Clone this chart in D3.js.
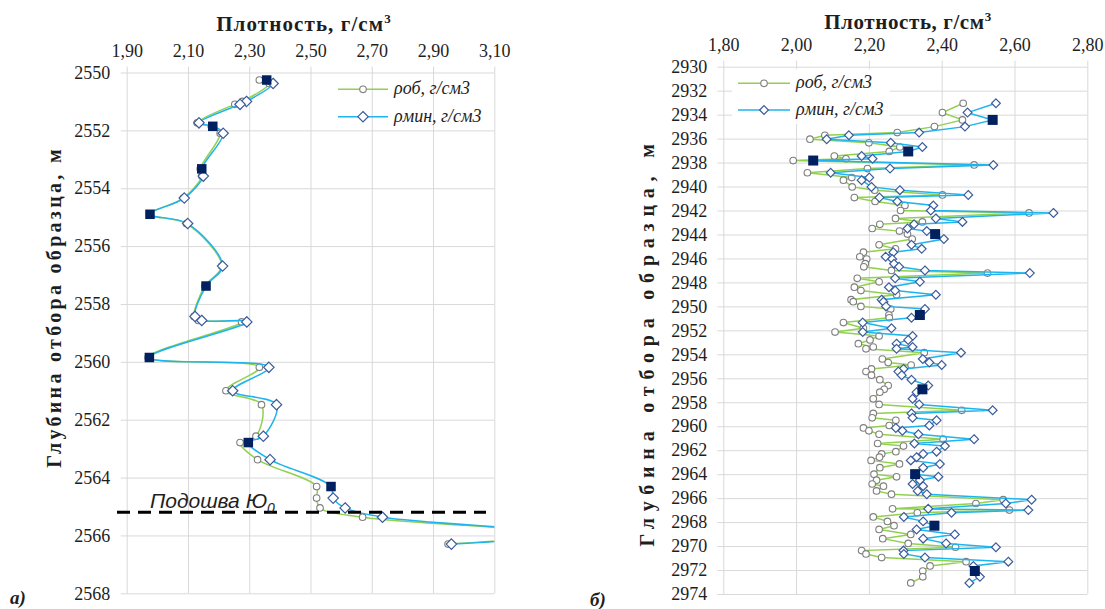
<!DOCTYPE html>
<html><head><meta charset="utf-8">
<script src="https://cdn.jsdelivr.net/npm/d3@7/dist/d3.min.js"></script>
<style>
body{margin:0;background:#fff;}
svg{display:block;}
</style></head>
<body><svg id="c" width="1105" height="609"></svg>
<script>
// ---------- DATA ----------
// Panel а)
const depthA = [2550.26,2550.38,2551.00,2551.10,2551.74,2551.86,2552.10,2553.33,2553.58,2554.34,2554.90,2555.22,2556.69,2557.38,2558.43,2558.57,2558.62,2559.85,2560.19,2561.00,2561.48,2562.57,2562.79,2563.38,2564.31,2564.71,2565.05,2565.37,2565.95,2566.30];
const robA   = [2.333,2.365,2.278,2.253,2.130,2.176,2.205,2.140,2.145,2.085,1.975,2.095,2.210,2.155,2.120,2.134,2.275,1.970,2.333,2.224,2.340,2.322,2.270,2.327,2.520,2.520,2.531,2.670,3.300,2.949];
const rminA  = [2.357,2.378,2.291,2.270,2.136,2.181,2.215,2.145,2.150,2.088,1.976,2.099,2.213,2.159,2.123,2.145,2.292,1.974,2.364,2.246,2.389,2.346,2.297,2.368,2.567,2.574,2.613,2.735,3.330,2.960];
const markedA = [0,5,7,10,13,17,22,24];
const xTicksA = [1.9,2.1,2.3,2.5,2.7,2.9,3.1];
const yTicksA = [2550,2552,2554,2556,2558,2560,2562,2564,2566,2568];
const baseDepthA = 2565.2;

// Panel б)
const depthB = [2933.05,2933.83,2934.44,2935.00,2935.50,2935.72,2936.05,2936.35,2936.70,2937.07,2937.45,2937.68,2937.83,2938.20,2938.50,2938.85,2939.25,2939.47,2940.03,2940.30,2940.70,2940.92,2941.25,2941.58,2942.00,2942.20,2942.66,2942.95,2943.15,2943.50,2943.72,2943.97,2944.38,2944.86,2945.20,2945.48,2945.86,2946.05,2946.44,2946.70,2947.00,2947.22,2947.66,2947.95,2948.40,2948.68,2949.03,2949.44,2949.61,2950.00,2950.22,2950.72,2950.95,2951.35,2951.83,2952.14,2952.47,2952.80,2953.11,2953.39,2953.54,2953.86,2954.39,2954.69,2954.89,2955.22,2955.44,2955.74,2956.12,2956.61,2956.92,2957.16,2957.71,2958.18,2958.67,2958.93,2959.30,2959.51,2959.94,2960.14,2960.38,2960.67,2961.08,2961.44,2961.66,2962.12,2962.31,2962.58,2962.85,2963.15,2963.46,2964.00,2964.22,2964.50,2964.82,2965.00,2965.40,2965.67,2966.13,2966.45,2966.89,2967.00,2967.22,2967.57,2967.94,2968.30,2968.61,2969.03,2969.38,2969.78,2970.10,2970.38,2970.66,2970.96,2971.30,2971.66,2972.08,2972.57,2973.08];
const robB = [2.459,2.402,2.457,2.380,2.278,2.079,2.038,2.200,2.285,2.256,2.105,2.137,1.992,2.489,2.196,2.031,2.153,2.130,2.154,2.216,2.402,2.160,2.217,2.299,2.287,2.640,2.273,2.347,2.230,2.209,2.284,2.306,2.319,2.228,2.273,2.185,2.175,2.194,2.190,2.186,2.262,2.526,2.168,2.228,2.160,2.178,2.276,2.151,2.157,2.178,2.260,2.255,2.256,2.130,2.185,2.107,2.228,2.203,2.171,2.212,2.192,2.352,2.237,2.253,2.316,2.207,2.192,2.207,2.230,2.253,2.242,2.230,2.212,2.228,2.455,2.212,2.209,2.274,2.256,2.185,2.200,2.228,2.404,2.224,2.295,2.274,2.235,2.229,2.206,2.284,2.230,2.214,2.276,2.221,2.209,2.240,2.221,2.262,2.569,2.494,2.265,2.586,2.333,2.212,2.251,2.269,2.228,2.315,2.238,2.308,2.438,2.180,2.192,2.235,2.467,2.368,2.348,2.348,2.315];
const rminB = [2.549,2.471,2.540,2.464,2.338,2.145,2.084,2.260,2.347,2.308,2.180,2.210,2.047,2.542,2.258,2.095,2.201,2.180,2.207,2.285,2.473,2.229,2.278,2.377,2.370,2.707,2.384,2.457,2.324,2.306,2.359,2.382,2.406,2.317,2.345,2.267,2.246,2.264,2.269,2.283,2.354,2.642,2.272,2.340,2.255,2.272,2.384,2.235,2.240,2.247,2.354,2.340,2.317,2.183,2.262,2.183,2.320,2.308,2.276,2.320,2.276,2.453,2.348,2.366,2.400,2.295,2.281,2.290,2.317,2.363,2.347,2.331,2.320,2.338,2.540,2.317,2.320,2.386,2.366,2.274,2.292,2.336,2.489,2.325,2.409,2.386,2.349,2.331,2.315,2.395,2.349,2.327,2.391,2.340,2.320,2.349,2.334,2.359,2.647,2.576,2.363,2.638,2.427,2.296,2.349,2.380,2.331,2.436,2.349,2.412,2.549,2.295,2.296,2.354,2.583,2.487,2.491,2.505,2.476];
const markedB = [2,9,12,31,51,70,91,105,116];
const xTicksB = [1.8,2.0,2.2,2.4,2.6,2.8];
const yTicksB = d3.range(2930,2975,2);

const seriesNames = ["ρоб, г/см3","ρмин, г/см3"];
const xTitle = "Плотность, г/см";
const yTitle = "Глубина отбора образца, м";

// ---------- STYLE ----------
const GREEN = "#92d050", BLUE = "#1fb4ee", GRID = "#d9d9d9";
const CIRC = "#7f7f7f", DIAM = "#3b5c9c", SQ = "#002060";
const svg = d3.select("#c");
const fmt = v => d3.format(".2f")(v).replace(".", ",");
const diamond = r => `M0,${-r}L${r},0L0,${r}L${-r},0Z`;

function panel(o){
  const g = svg.append("g");
  const x = d3.scaleLinear().domain(o.xDom).range([o.x0,o.x1]);
  const y = d3.scaleLinear().domain(o.yDom).range([o.y0,o.y1]);
  const w = o.x1-o.x0, h = o.y1-o.y0;
  const ax = g.append("g").attr("transform",`translate(0,${o.y0-6})`)
    .call(d3.axisTop(x).tickValues(o.xTicks).tickFormat(fmt).tickSizeInner(-(h+6)).tickSizeOuter(0).tickPadding(o.xPad));
  const ay = g.append("g").attr("transform",`translate(${o.x0-6},0)`)
    .call(d3.axisLeft(y).tickValues(o.yTicks).tickFormat(d3.format("d")).tickSizeInner(-(w+6)).tickSizeOuter(0).tickPadding(o.yPad));
  [ax,ay].forEach(a=>{
    a.select(".domain").remove();
    a.selectAll("line").attr("stroke",GRID).attr("stroke-width",1);
    a.selectAll("text").attr("font-family","'Liberation Serif','Times New Roman',serif")
      .attr("font-size",o.tickFs).attr("fill","#1e1e1e");
  });
  const t = g.append("text").attr("x",o.xTitleX).attr("y",o.xTitleY).attr("text-anchor","middle")
    .attr("font-family","'Liberation Serif',serif").attr("font-weight","bold").attr("font-size",o.titleFs)
    .attr("letter-spacing",o.titleLs).attr("fill","#1e1e1e");
  t.append("tspan").text(xTitle);
  t.append("tspan").text("3").attr("font-size",o.titleFs*0.62).attr("dy",-o.titleFs*0.38);
  g.append("text").attr("transform",`translate(${o.yTitleX},${o.yTitleY}) rotate(-90)`).attr("text-anchor","middle")
    .attr("font-family","'Liberation Serif',serif").attr("font-weight","bold").attr("font-size",o.yTitleFs)
    .attr("letter-spacing",o.yTitleLs).attr("fill","#1e1e1e").text(yTitle);
  const cid = "clip"+o.id;
  svg.append("clipPath").attr("id",cid).append("rect").attr("x",o.x0).attr("y",o.y0).attr("width",w).attr("height",h);
  const pg = g.append("g").attr("clip-path",`url(#${cid})`);
  const idx = d3.range(o.depth.length);
  const line = vals => d3.line().curve(o.curve).x(i=>x(vals[i])).y(i=>y(o.depth[i]));
  pg.append("path").attr("d",line(o.rob)(idx)).attr("fill","none").attr("stroke",GREEN).attr("stroke-width",1.5);
  pg.selectAll(".c").data(idx).enter().append("circle").attr("cx",i=>x(o.rob[i])).attr("cy",i=>y(o.depth[i]))
    .attr("r",o.cr).attr("fill","#fff").attr("stroke",CIRC).attr("stroke-width",1.1);
  pg.append("path").attr("d",line(o.rmin)(idx)).attr("fill","none").attr("stroke",BLUE).attr("stroke-width",1.5);
  const marked = new Set(o.marked);
  pg.selectAll(".d").data(idx.filter(i=>!marked.has(i))).enter().append("path")
    .attr("transform",i=>`translate(${x(o.rmin[i])},${y(o.depth[i])})`).attr("d",diamond(o.dr))
    .attr("fill","#fff").attr("stroke",DIAM).attr("stroke-width",1.2);
  pg.selectAll(".s").data(o.marked).enter().append("rect")
    .attr("x",i=>x(o.rmin[i])-o.sq/2).attr("y",i=>y(o.depth[i])-o.sq/2).attr("width",o.sq).attr("height",o.sq)
    .attr("fill",SQ);
  const lg = g.append("g");
  if(o.legBg) lg.append("rect").attr("x",o.leg.x-6).attr("y",o.leg.y-14).attr("width",o.leg.bw).attr("height",o.leg.dy+28).attr("fill","#fff");
  seriesNames.forEach((s,k)=>{
    const yy = o.leg.y + k*o.leg.dy;
    lg.append("line").attr("x1",o.leg.x).attr("x2",o.leg.x+o.leg.len).attr("y1",yy).attr("y2",yy)
      .attr("stroke",k?BLUE:GREEN).attr("stroke-width",1.5);
    const mx = o.leg.x+o.leg.len/2;
    if(k===0) lg.append("circle").attr("cx",mx).attr("cy",yy).attr("r",o.cr).attr("fill","#fff").attr("stroke",CIRC).attr("stroke-width",1.1);
    else lg.append("path").attr("transform",`translate(${mx},${yy})`).attr("d",diamond(o.dr)).attr("fill","#fff").attr("stroke",DIAM).attr("stroke-width",1.2);
    lg.append("text").attr("x",o.leg.x+o.leg.len+6).attr("y",yy+5).attr("font-family","'Liberation Serif',serif")
      .attr("font-style","italic").attr("font-size",o.legFs).attr("fill","#1e1e1e").text(s);
  });
  return {g,x,y};
}

const A = panel({id:"A",xDom:[1.9,3.1],yDom:[2550,2568],x0:126.7,x1:494.3,y0:72.5,y1:593.3,
  xTicks:xTicksA,yTicks:yTicksA,xPad:10,yPad:10.5,tickFs:18,titleFs:21,titleLs:1.1,xTitleX:304,xTitleY:31,
  yTitleX:61,yTitleY:307,yTitleFs:20,yTitleLs:3.3,
  depth:depthA,rob:robA,rmin:rminA,marked:markedA,curve:d3.curveCatmullRom.alpha(0.5),
  cr:3.3,dr:5.2,sq:9.5,leg:{x:338,y:89.3,dy:27.4,len:50,bw:150},legBg:false,legFs:18});

A.g.append("line").attr("x1",117).attr("x2",486).attr("y1",A.y(baseDepthA)).attr("y2",A.y(baseDepthA))
  .attr("stroke","#000").attr("stroke-width",3).attr("stroke-dasharray","13,8");
const bt = A.g.append("text").attr("x",150).attr("y",508).attr("font-family","'Liberation Sans',Arial,sans-serif")
  .attr("font-style","italic").attr("font-size",21).attr("fill","#1e1e1e");
bt.append("tspan").text("Подошва Ю");
bt.append("tspan").text("0").attr("font-size",14).attr("dy",5);

const B = panel({id:"B",xDom:[1.8,2.8],yDom:[2930,2974],x0:723.3,x1:1087.3,y0:66.7,y1:594,
  xTicks:xTicksB,yTicks:yTicksB,xPad:10,yPad:10,tickFs:18,titleFs:21,titleLs:0.6,xTitleX:908,xTitleY:29,
  yTitleX:654,yTitleY:342,yTitleFs:20,yTitleLs:6.8,
  depth:depthB,rob:robB,rmin:rminB,marked:markedB,curve:d3.curveLinear,
  cr:3.3,dr:4.4,sq:10,leg:{x:738,y:83.3,dy:26.7,len:52,bw:158},legBg:true,legFs:18});

[["а)",10,604],["б)",590,606]].forEach(([t,xx,yy])=>{
  svg.append("text").attr("x",xx).attr("y",yy).attr("font-family","'Liberation Serif',serif")
    .attr("font-style","italic").attr("font-weight","bold").attr("font-size",19).attr("fill","#1e1e1e").text(t);
});
</script></body></html>
